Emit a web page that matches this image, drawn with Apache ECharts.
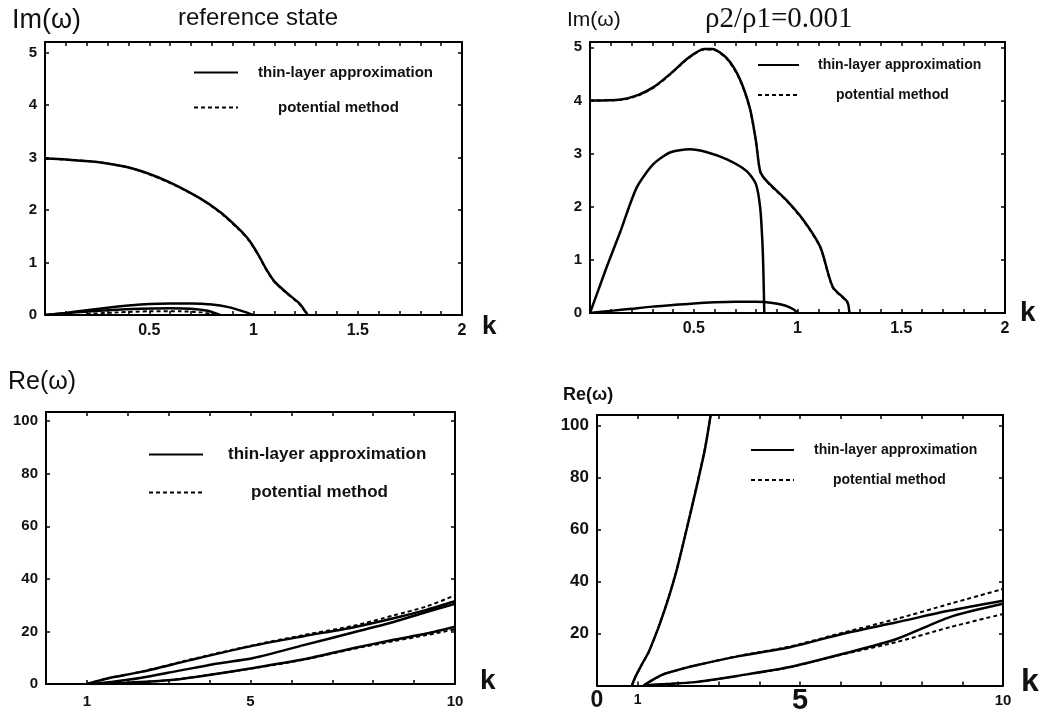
<!DOCTYPE html>
<html>
<head>
<meta charset="utf-8">
<script src="https://cdn.jsdelivr.net/npm/echarts@6/dist/echarts.min.js"></script>
<style>
  html, body { margin: 0; padding: 0; background: #fff; }
  #chart { width: 1047px; height: 715px; }
</style>
</head>
<body>
<div id="chart"></div>
<script>
// ---- panel 1: reference state, Im(omega) vs k ----
var refImK1 = [0, 0.1, 0.26, 0.42, 0.58, 0.74, 0.84, 0.93, 0.97, 1.0, 1.03, 1.06, 1.1, 1.16, 1.22, 1.25, 1.26];
var refImS1 = [2.98, 2.96, 2.91, 2.79, 2.56, 2.23, 1.96, 1.64, 1.47, 1.3, 1.1, 0.88, 0.64, 0.42, 0.22, 0.06, 0];
var refImD1 = [2.98, 2.96, 2.91, 2.79, 2.55, 2.23, 1.95, 1.63, 1.46, 1.29, 1.09, 0.87, 0.63, 0.41, 0.21, 0.05, 0];
var refImK2 = [0, 0.1, 0.2, 0.3, 0.4, 0.5, 0.6, 0.7, 0.8, 0.88, 0.95, 1.0];
var refImS2 = [0, 0.04, 0.09, 0.14, 0.18, 0.21, 0.22, 0.22, 0.2, 0.15, 0.07, 0];
var refImK3 = [0, 0.15, 0.3, 0.45, 0.6, 0.7, 0.78, 0.84];
var refImS3 = [0, 0.05, 0.09, 0.12, 0.13, 0.12, 0.08, 0];
var refImK4 = [0.2, 0.35, 0.5, 0.65, 0.75, 0.82];
var refImD4 = [0.02, 0.05, 0.07, 0.07, 0.05, 0];

// ---- panel 2: rho2/rho1 = 0.001, Im(omega) vs k ----
var rhoImK1 = [0, 0.15, 0.23, 0.31, 0.39, 0.47, 0.55, 0.59, 0.66, 0.72, 0.77, 0.8, 0.82, 0.85, 0.95, 1.03, 1.11, 1.17, 1.24, 1.25];
var rhoImS1 = [4.0, 4.02, 4.1, 4.26, 4.51, 4.79, 4.97, 4.97, 4.79, 4.42, 3.86, 3.23, 2.67, 2.49, 2.11, 1.74, 1.24, 0.49, 0.21, 0];
var rhoImD1 = [4.0, 4.01, 4.09, 4.25, 4.5, 4.78, 4.96, 4.96, 4.78, 4.41, 3.85, 3.22, 2.66, 2.48, 2.1, 1.73, 1.23, 0.48, 0.2, 0];
var rhoImK2 = [0, 0.04, 0.08, 0.145, 0.225, 0.305, 0.385, 0.48, 0.56, 0.66, 0.755, 0.8, 0.82, 0.83, 0.835, 0.84];
var rhoImS2 = [0, 0.43, 0.86, 1.52, 2.36, 2.8, 3.02, 3.08, 3.03, 2.89, 2.67, 2.42, 1.99, 1.4, 0.87, 0];
var rhoImK3 = [0, 0.1, 0.2, 0.3, 0.4, 0.5, 0.6, 0.7, 0.8, 0.88, 0.94, 0.98, 1.0];
var rhoImS3 = [0, 0.04, 0.08, 0.12, 0.15, 0.18, 0.2, 0.21, 0.21, 0.19, 0.14, 0.07, 0];

// ---- panel 3: reference state, Re(omega) vs k ----
var refReK1 = [1.0, 1.5, 2.36, 3.5, 5.07, 6.3, 7.53, 8.5, 9.3, 10];
var refReS1 = [0, 2.1, 4.7, 9.0, 14.6, 18.2, 21.6, 25.0, 28.2, 31.5];
var refReD1 = [0, 2.1, 4.8, 9.2, 14.8, 18.6, 22.2, 26.1, 29.5, 33.7];
var refReK2 = [1.1, 1.6, 2.3, 3.17, 4.2, 5.07, 6.3, 7.53, 8.5, 9.3, 10];
var refReS2 = [0, 0.8, 2.3, 4.8, 7.8, 9.9, 14.8, 19.7, 23.6, 27.4, 30.5];
var refReK3 = [1.1, 2.0, 2.9, 3.7, 5.07, 6.3, 7.53, 8.5, 9.3, 10];
var refReS3 = [0, 0.5, 1.3, 2.8, 6.1, 9.4, 13.7, 16.8, 19.2, 21.8];
var refReD3 = [0, 0.5, 1.3, 2.8, 6.0, 9.2, 13.4, 16.3, 18.6, 20.8];

// ---- panel 4: rho2/rho1 = 0.001, Re(omega) vs k ----
var rhoReK1 = [0.86, 0.95, 1.1, 1.27, 1.42, 1.56, 1.78, 1.97, 2.21, 2.46, 2.66, 2.8];
var rhoReS1 = [0, 3.5, 8, 12.8, 18.5, 24.3, 34.6, 44.8, 60.2, 76.8, 90.9, 104];
var rhoReD1 = [0, 3.4, 7.9, 12.7, 18.4, 24.4, 34.8, 45.0, 60.5, 77.2, 91.4, 104];
var rhoReK2 = [1.15, 1.3, 1.6, 2.0, 2.42, 3.5, 4.75, 6.06, 7.38, 8.69, 10];
var rhoReS2 = [0, 1.5, 4.1, 6.0, 7.7, 11.3, 14.7, 19.9, 24.3, 28.8, 32.6];
var rhoReD2 = [0, 1.5, 4.1, 6.0, 7.7, 11.4, 15.0, 20.3, 25.6, 31.4, 37.1];
var rhoReK3 = [1.15, 1.6, 2.42, 3.5, 4.75, 6.06, 7.38, 8.69, 10];
var rhoReS3 = [0, 0.5, 1.3, 3.8, 7.1, 12.2, 17.9, 26.3, 31.4];
var rhoReD3 = [0, 0.5, 1.3, 3.8, 7.0, 12.0, 16.7, 22.4, 27.5];

var solidName = 'thin-layer approximation';
var dashName = 'potential method';

var chart = echarts.init(document.getElementById('chart'), null, { renderer: 'canvas' });
var FONT = 'Liberation Sans';
var INK = '#111';

function zip(xs, ys) {
  return xs.map(function (x, i) { return [x, ys[i]]; });
}

// plot boxes (pixels)
var boxes = [
  { left: 45, top: 42, width: 417, height: 273 },
  { left: 590, top: 42, width: 415, height: 271 },
  { left: 46, top: 412, width: 409, height: 272 },
  { left: 597, top: 415, width: 406, height: 272 }
];

function near(v, m) { return Math.abs(v / m - Math.round(v / m)) < 1e-6; }

var xFmtIm = function (v) { return v > 0 && near(v, 0.5) ? String(+v.toFixed(1)) : ''; };
var yFmtIm = function (v) { return near(v, 1) && v <= 5.01 ? String(Math.round(v)) : ''; };
var xFmtRe1 = function (v) { var r = Math.round(v); return near(v, 1) && (r === 1 || r === 5 || r === 10) ? String(r) : ''; };
var yFmtRe1 = function (v) { return near(v, 20) && v <= 100 ? String(Math.round(v)) : ''; };
var yFmtRe2 = function (v) { return near(v, 20) && v > 0 && v <= 100 ? String(Math.round(v)) : ''; };
var xFmtRe2 = function (v) {
  var r = Math.round(v);
  if (!near(v, 1)) return '';
  if (r === 0) return '{b0|0}';
  if (r === 1) return '{s|1}';
  if (r === 5) return '{b5|5}';
  if (r === 10) return '{s10|10}';
  return '';
};

var axisSpecs = [
  { xmin: 0, xmax: 2, xint: 0.1, ymin: 0, ymax: 5.2, yint: 1, xf: xFmtIm, yf: yFmtIm, xs: 16, ys: 15, xm: 8 },
  { xmin: 0, xmax: 2, xint: 0.1, ymin: 0, ymax: 5.1, yint: 1, xf: xFmtIm, yf: yFmtIm, xs: 16, ys: 15, xm: 8 },
  { xmin: 0, xmax: 10, xint: 1, ymin: 0, ymax: 103.5, yint: 20, xf: xFmtRe1, yf: yFmtRe1, xs: 15, ys: 15, xm: 10 },
  { xmin: 0, xmax: 10, xint: 1, ymin: 0, ymax: 104, yint: 20, xf: xFmtRe2, yf: yFmtRe2, xs: 15, ys: 17, xm: 15 }
];

var grids = [], xAxes = [], yAxes = [];
boxes.forEach(function (b, i) {
  var s = axisSpecs[i];
  grids.push({ left: b.left, top: b.top, width: b.width, height: b.height, containLabel: false });
  var line = { show: true, onZero: false, lineStyle: { color: '#000', width: 2 } };
  var tick = { show: true, inside: true, length: 4, lineStyle: { color: '#000', width: 1.5 } };
  var xLabel = {
    formatter: s.xf, color: INK, fontFamily: FONT, fontWeight: 'bold', fontSize: s.xs, margin: s.xm
  };
  if (i === 3) {
    xLabel.verticalAlign = 'middle';
    xLabel.rich = {
      b0: { fontSize: 23, fontWeight: 'bold', fontFamily: FONT, color: INK },
      b5: { fontSize: 29, fontWeight: 'bold', fontFamily: FONT, color: INK },
      s: { fontSize: 14, fontWeight: 'bold', fontFamily: FONT, color: INK },
      s10: { fontSize: 15, fontWeight: 'bold', fontFamily: FONT, color: INK }
    };
  }
  xAxes.push({
    gridIndex: i, type: 'value', position: 'bottom', min: s.xmin, max: s.xmax, interval: s.xint,
    axisLine: line, axisTick: tick, splitLine: { show: false }, axisLabel: xLabel
  });
  xAxes.push({
    gridIndex: i, type: 'value', position: 'top', min: s.xmin, max: s.xmax, interval: s.xint,
    axisLine: line, axisTick: tick, splitLine: { show: false }, axisLabel: { show: false }
  });
  yAxes.push({
    gridIndex: i, type: 'value', position: 'left', min: s.ymin, max: s.ymax, interval: s.yint,
    axisLine: line, axisTick: tick, splitLine: { show: false },
    axisLabel: { formatter: s.yf, color: INK, fontFamily: FONT, fontWeight: 'bold', fontSize: s.ys, margin: 8 }
  });
  yAxes.push({
    gridIndex: i, type: 'value', position: 'right', min: s.ymin, max: s.ymax, interval: s.yint,
    axisLine: line, axisTick: tick, splitLine: { show: false }, axisLabel: { show: false }
  });
});

function curve(i, name, xs, ys) {
  var dashed = name === dashName;
  return {
    type: 'line', name: name, xAxisIndex: 2 * i, yAxisIndex: 2 * i,
    data: zip(xs, ys), symbol: 'none', smooth: 0.25, clip: true,
    lineStyle: dashed ? { color: '#000', width: 2, type: [4, 3] } : { color: '#000', width: 2.5 },
    itemStyle: { color: '#000' },
    z: dashed ? 3 : 2
  };
}

var series = [
  curve(0, solidName, refImK1, refImS1),
  curve(0, solidName, refImK2, refImS2),
  curve(0, solidName, refImK3, refImS3),
  curve(0, dashName, refImK1, refImD1),
  curve(0, dashName, refImK4, refImD4),

  curve(1, solidName, rhoImK1, rhoImS1),
  curve(1, solidName, rhoImK2, rhoImS2),
  curve(1, solidName, rhoImK3, rhoImS3),
  curve(1, dashName, rhoImK1, rhoImD1),

  curve(2, solidName, refReK1, refReS1),
  curve(2, solidName, refReK2, refReS2),
  curve(2, solidName, refReK3, refReS3),
  curve(2, dashName, refReK1, refReD1),
  curve(2, dashName, refReK3, refReD3),

  curve(3, solidName, rhoReK1, rhoReS1),
  curve(3, solidName, rhoReK2, rhoReS2),
  curve(3, solidName, rhoReK3, rhoReS3),
  curve(3, dashName, rhoReK1, rhoReD1),
  curve(3, dashName, rhoReK2, rhoReD2),
  curve(3, dashName, rhoReK3, rhoReD3)
];

// legends, one per panel: [left, top, line width, gap, font, pad1, pad2]
var legendSpecs = [
  [193, 65, 44, 20, 15, 15, 35],
  [757, 58, 41, 16, 14, 14, 32],
  [148, 446, 54, 21, 17, 20, 43],
  [750, 443, 43, 16, 14, 15, 34]
];
var legends = legendSpecs.map(function (l) {
  var ts = { color: INK, fontFamily: FONT, fontWeight: 'bold', fontSize: l[4] };
  return {
    left: l[0], top: l[1], orient: 'vertical', padding: 0, itemWidth: l[2], itemHeight: 14,
    itemGap: l[3], selectedMode: false,
    itemStyle: { opacity: 0 },
    data: [
      { name: solidName, textStyle: Object.assign({}, ts, { padding: [0, 0, 0, l[5]] }) },
      { name: dashName, textStyle: Object.assign({}, ts, { padding: [0, 0, 0, l[6]] }) }
    ]
  };
});

function label(text, left, top, size, weight, family) {
  return {
    text: text, left: left, top: top, padding: 0,
    textStyle: { color: INK, fontSize: size, fontWeight: weight || 'normal', fontFamily: family || FONT }
  };
}

var titles = [
  label('Im(ω)', 12, 7, 27),
  label('reference state', 178, 6, 24),
  label('Im(ω)', 567, 10, 21),
  label('ρ2/ρ1=0.001', 705, 5, 29, 'normal', 'Liberation Serif'),
  label('Re(ω)', 8, 370, 25),
  label('Re(ω)', 563, 386, 18, 'bold'),
  label('k', 482, 314, 26, 'bold'),
  label('k', 1020, 299, 28, 'bold'),
  label('k', 480, 667, 28, 'bold'),
  label('k', 1021, 666, 32, 'bold')
];

chart.setOption({
  animation: false,
  backgroundColor: '#fff',
  title: titles,
  legend: legends,
  grid: grids,
  xAxis: xAxes,
  yAxis: yAxes,
  series: series
});
</script>
</body>
</html>
